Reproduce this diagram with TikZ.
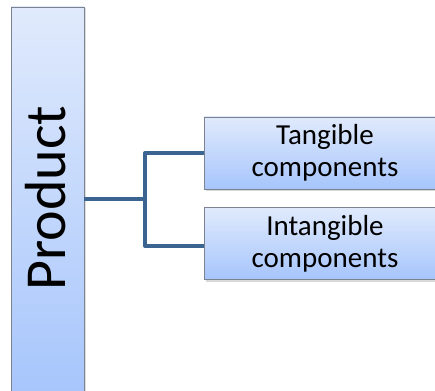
\documentclass[tikz,border=0pt]{standalone}
\usepackage{fontspec}
\setmainfont{Carlito}
\usepackage{xcolor}
\usepackage{tikz}
\usetikzlibrary{positioning,calc,shadows}
\definecolor{BoxTop}{RGB}{224,234,252}
\definecolor{BoxBot}{RGB}{166,197,252}
\definecolor{BoxEdge}{RGB}{125,130,145}
\definecolor{LinkBlue}{RGB}{59,100,145}
\begin{document}
\begin{tikzpicture}[x=1pt,y=-1pt,every node/.style={font=\fontsize{29}{32}\selectfont,text=black}]
\tikzset{prodbox/.style={draw=BoxEdge,top color=BoxTop,bottom color=BoxBot,minimum width=73pt,minimum height=395pt,inner sep=0pt,drop shadow={shadow xshift=1.5pt,shadow yshift=-1.5pt,opacity=.25}},
compbox/.style={draw=BoxEdge,top color=BoxTop,bottom color=BoxBot,minimum width=242pt,minimum height=72pt,align=center,inner sep=0pt,drop shadow={shadow xshift=1.5pt,shadow yshift=-2pt,opacity=.3}},
link/.style={draw=LinkBlue,line width=4pt,line join=round}}
\useasboundingbox (0,0) rectangle (435,390);
\clip (0,0) rectangle (435,390);
\node[prodbox] (prod) at (47.5,204.5) {};
\node[rotate=90,font=\fontsize{58}{60}\selectfont] (prodtext) at (46,198) {Product};
\node[compbox] (tang) at (325,153) {Tangible\\components};
\node[compbox] (intang) at (325,243.5) {Intangible\\components};
\coordinate (fork) at (145,199);
\draw[link] (prod.east |- fork) -- (fork);
\draw[link] (fork) |- (tang.west);
\draw[link] (fork) |- ([yshift=-2.5pt]intang.west);
\end{tikzpicture}
\end{document}
